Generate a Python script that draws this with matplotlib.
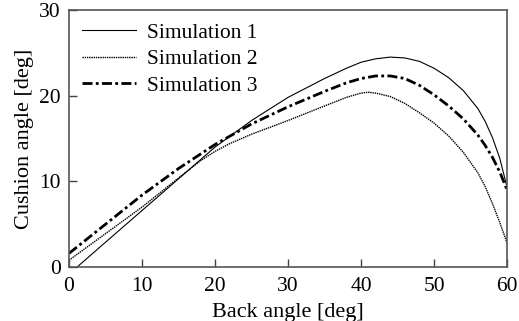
import matplotlib
matplotlib.use('Agg')
import matplotlib.pyplot as plt

plt.rcParams['font.family'] = 'Liberation Serif'

# Simulation 1 (solid)
x1 = [1.1, 5, 10, 15, 20, 25, 30, 35, 38, 40, 42, 44, 46, 48, 50, 52, 54, 56, 57, 58, 59, 60]
y1 = [0.0, 2.9, 6.6, 10.3, 14.0, 17.1, 19.8, 22.0, 23.2, 23.9, 24.3, 24.5, 24.4, 24.0, 23.2, 22.1, 20.6, 18.5, 17.0, 15.1, 12.7, 9.3]

# Simulation 2 (dotted)
x2 = [0, 5, 10, 15, 18, 20, 22, 25, 30, 35, 38, 40, 41, 42, 44, 46, 48, 50, 52, 54, 56, 57, 58, 59, 60]
y2 = [0.8, 3.9, 7.0, 10.4, 12.4, 13.5, 14.4, 15.5, 17.1, 18.8, 19.8, 20.3, 20.4, 20.3, 19.9, 19.1, 18.0, 16.8, 15.3, 13.4, 11.0, 9.4, 7.4, 5.2, 2.8]

# Simulation 3 (dash-dot)
x3 = [0, 5, 10, 15, 20, 25, 30, 35, 38, 40, 42, 44, 46, 48, 50, 52, 54, 56, 57, 58, 59, 60]
y3 = [1.6, 5.0, 8.4, 11.5, 14.3, 16.7, 18.7, 20.5, 21.5, 22.0, 22.3, 22.3, 22.0, 21.2, 20.1, 18.8, 17.3, 15.4, 14.2, 12.8, 11.1, 9.0]

fig = plt.figure(figsize=(5.19, 3.21), dpi=100)
ax = fig.add_axes([0.133, 0.168, 0.844, 0.801])

ax.plot(x1, y1, color='black', lw=0.8, label='Simulation 1')
ax.plot(x2, y2, color='black', lw=1.0, linestyle=(0, (1, 0.6)), label='Simulation 2')
ax.plot(x3, y3, color='black', lw=2.0, linestyle=(0, (3.6, 1.2, 1, 1.2)), label='Simulation 3')

ax.set_xlim(0, 60)
ax.set_ylim(0, 30)
ax.set_xticks([0, 10, 20, 30, 40, 50, 60])
ax.set_yticks([0, 10, 20, 30])
ax.tick_params(direction='in', length=6, width=1, labelsize=15.5, color='#444444')
ax.tick_params(axis='x', pad=7)
ax.tick_params(axis='y', pad=6)
for s in ax.spines.values():
    s.set_color('#555555')
    s.set_linewidth(1.2)

ax.set_xlabel('Back angle [deg]', fontsize=16, labelpad=5)
ax.set_ylabel('Cushion angle [deg]', fontsize=16, labelpad=4)

ax.legend(loc='upper left', frameon=False, fontsize=15.5, handlelength=2.5,
          handletextpad=0.5, labelspacing=0.3, borderaxespad=0.2)

fig.savefig('out.png', dpi=100)
